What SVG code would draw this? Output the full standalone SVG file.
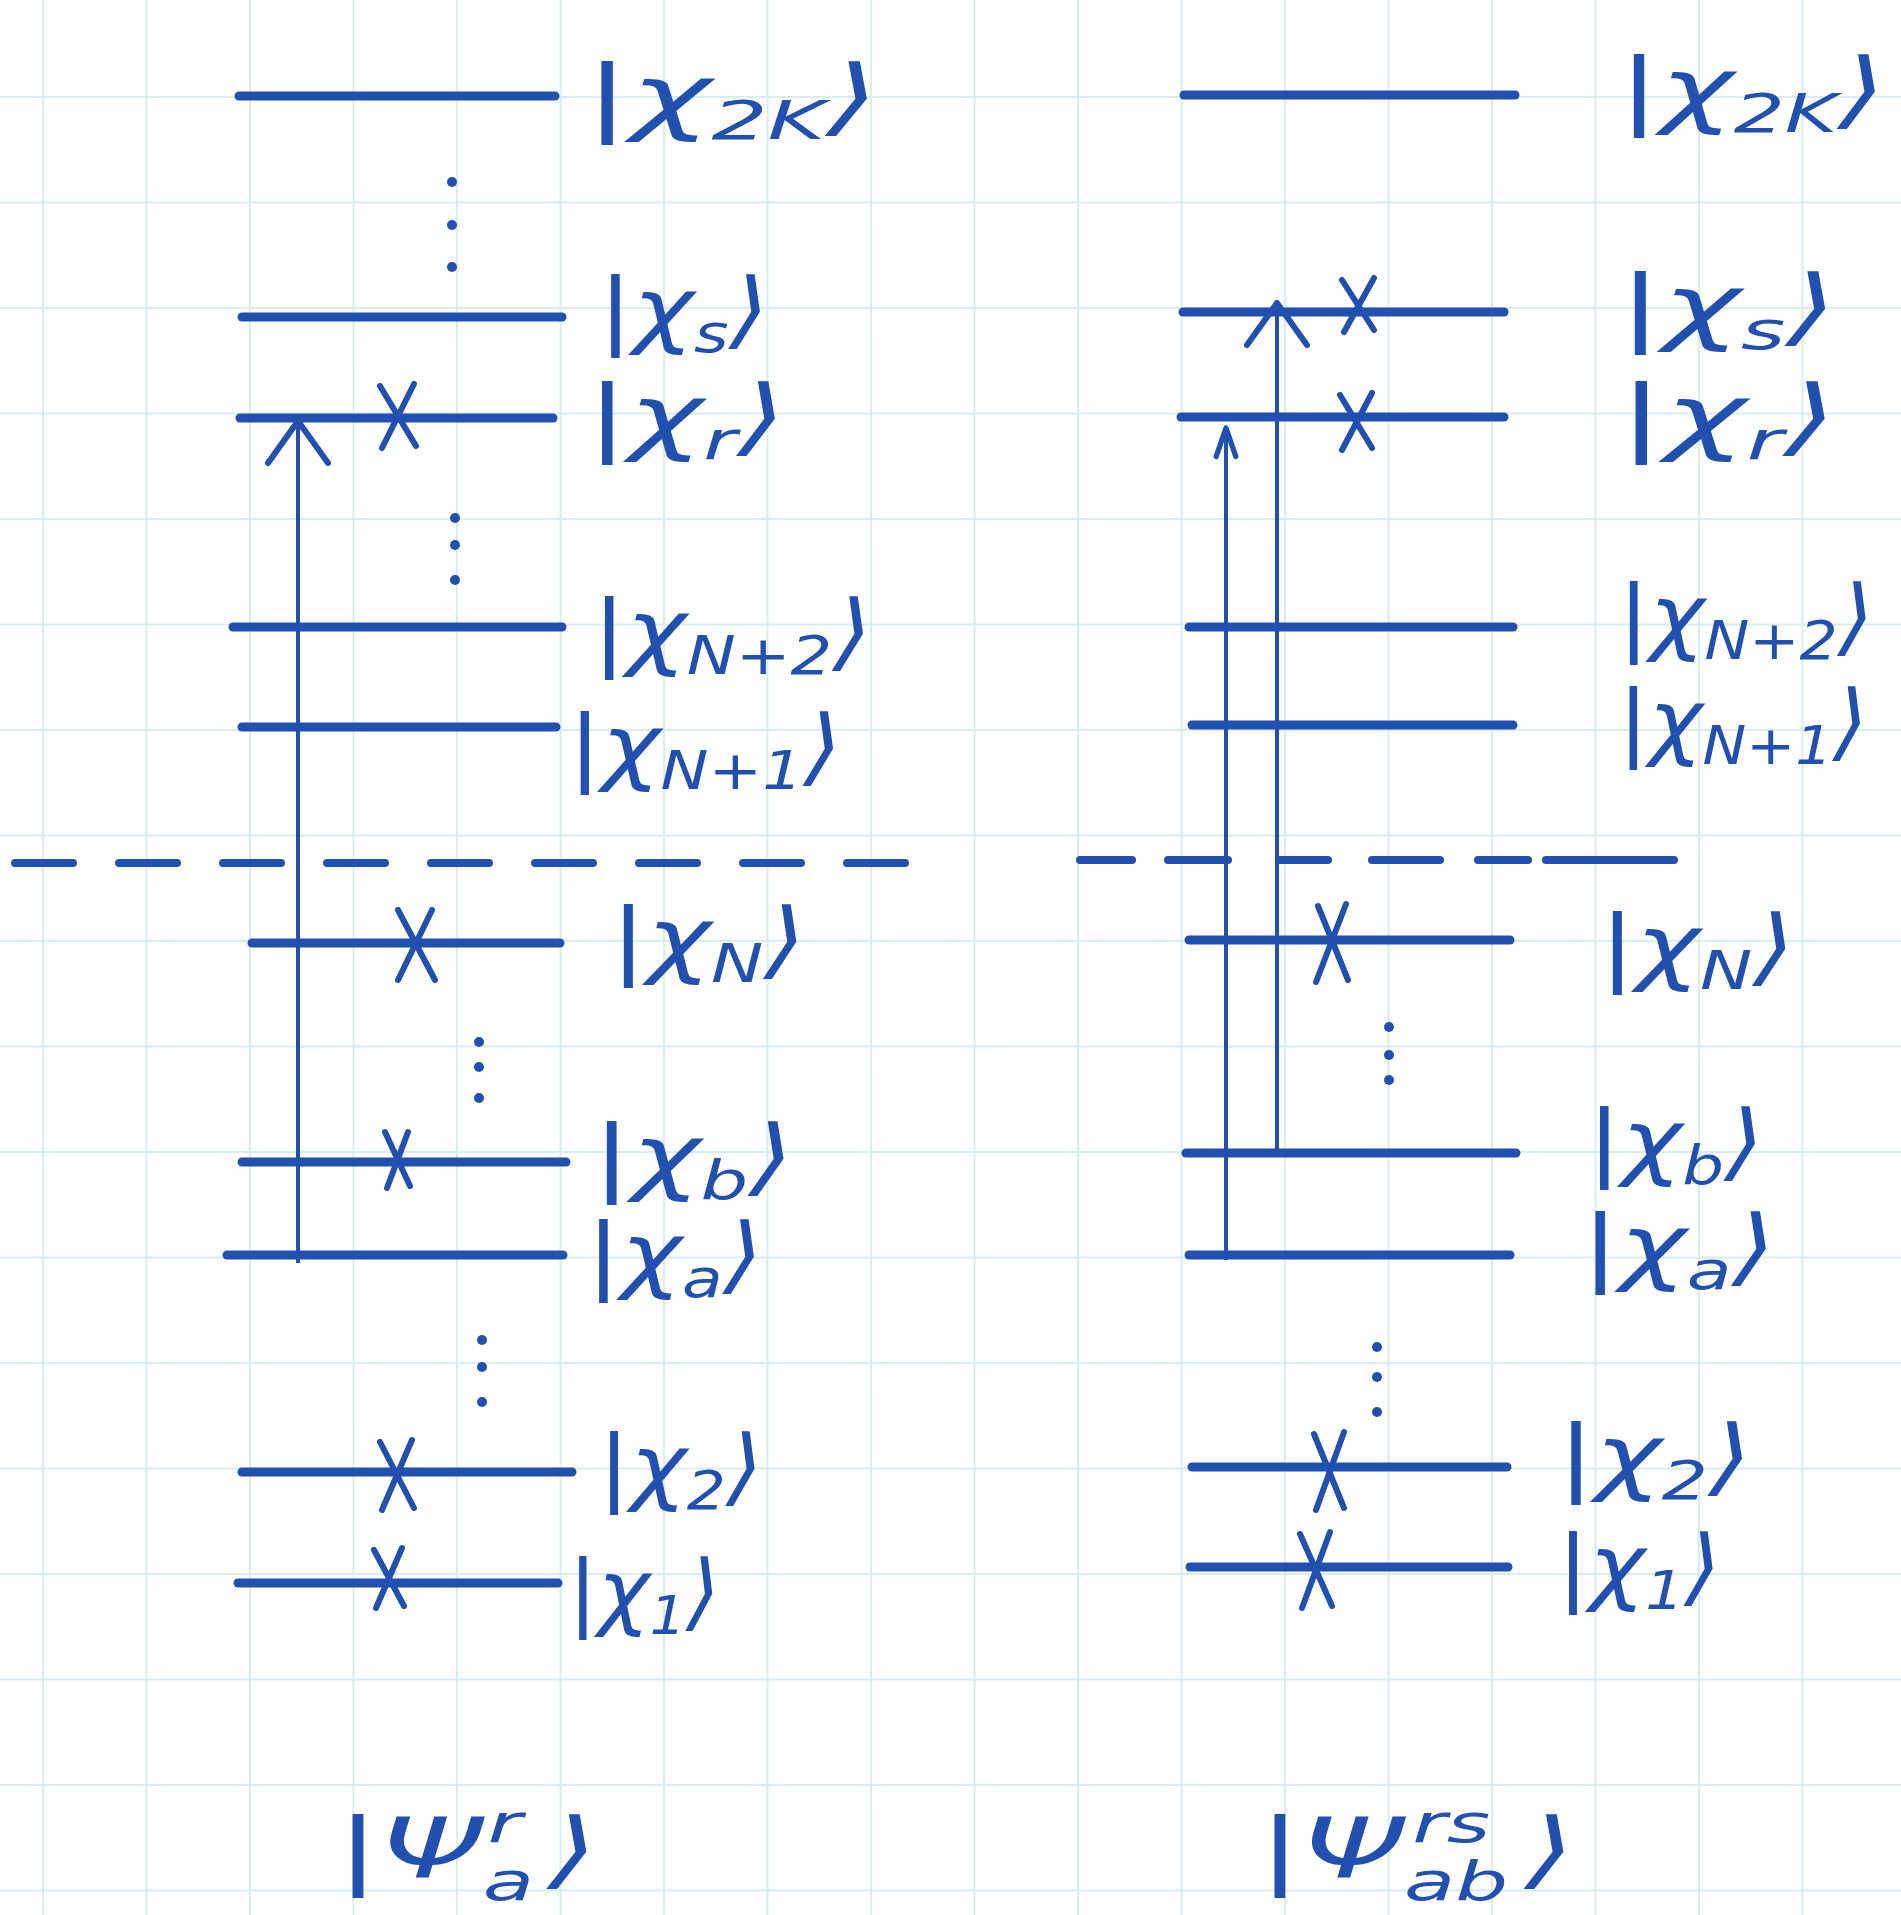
<svg xmlns="http://www.w3.org/2000/svg" width="1901" height="1915" viewBox="0 0 1901 1915">
<style>
.grid line{stroke:#d6eef2;stroke-width:2}
.lvl{stroke:#2150b0;stroke-width:9;stroke-linecap:round;fill:none}
.x{stroke:#2150b0;stroke-width:6;stroke-linecap:round;fill:none}
.con{stroke:#2150b0;stroke-width:4;fill:none}
.dash{stroke:#2150b0;stroke-width:8;stroke-linecap:round;fill:none}
.dot{fill:#2150b0}
.lbl{font-family:"DejaVu Sans","Liberation Sans",sans-serif;font-size:84px;fill:#2150b0;font-style:italic}
.sub{font-size:54px}
</style>
<defs>
<marker id="ah" markerUnits="userSpaceOnUse" markerWidth="80" markerHeight="80" refX="0" refY="0" viewBox="-50 -40 60 80" orient="auto" overflow="visible">
<path d="M-42,-30 L0,0 L-42,30" fill="none" stroke="#2150b0" stroke-width="6" stroke-linecap="round" stroke-linejoin="round"/>
</marker>
<marker id="ahs" markerUnits="userSpaceOnUse" markerWidth="40" markerHeight="40" refX="0" refY="0" viewBox="-40 -20 45 40" orient="auto" overflow="visible">
<path d="M-32,-11 L0,0 L-32,11" fill="none" stroke="#2150b0" stroke-width="6" stroke-linecap="round" stroke-linejoin="round"/>
</marker>
</defs>
<rect width="1901" height="1915" fill="#ffffff"/>
<g class="grid">
<line x1="0" y1="97" x2="1901" y2="97"/><line x1="0" y1="202.5" x2="1901" y2="202.5"/><line x1="0" y1="308" x2="1901" y2="308"/><line x1="0" y1="413.5" x2="1901" y2="413.5"/><line x1="0" y1="519" x2="1901" y2="519"/><line x1="0" y1="624.5" x2="1901" y2="624.5"/><line x1="0" y1="730" x2="1901" y2="730"/><line x1="0" y1="835.5" x2="1901" y2="835.5"/><line x1="0" y1="941" x2="1901" y2="941"/><line x1="0" y1="1046.5" x2="1901" y2="1046.5"/><line x1="0" y1="1152" x2="1901" y2="1152"/><line x1="0" y1="1257.5" x2="1901" y2="1257.5"/><line x1="0" y1="1363" x2="1901" y2="1363"/><line x1="0" y1="1468.5" x2="1901" y2="1468.5"/><line x1="0" y1="1574" x2="1901" y2="1574"/><line x1="0" y1="1679.5" x2="1901" y2="1679.5"/><line x1="0" y1="1785" x2="1901" y2="1785"/><line x1="0" y1="1890.5" x2="1901" y2="1890.5"/>
<line x1="43" y1="0" x2="43" y2="1915"/><line x1="146.5" y1="0" x2="146.5" y2="1915"/><line x1="250" y1="0" x2="250" y2="1915"/><line x1="353.5" y1="0" x2="353.5" y2="1915"/><line x1="457" y1="0" x2="457" y2="1915"/><line x1="560.5" y1="0" x2="560.5" y2="1915"/><line x1="664" y1="0" x2="664" y2="1915"/><line x1="767.5" y1="0" x2="767.5" y2="1915"/><line x1="871" y1="0" x2="871" y2="1915"/><line x1="974.5" y1="0" x2="974.5" y2="1915"/><line x1="1078" y1="0" x2="1078" y2="1915"/><line x1="1181.5" y1="0" x2="1181.5" y2="1915"/><line x1="1285" y1="0" x2="1285" y2="1915"/><line x1="1388.5" y1="0" x2="1388.5" y2="1915"/><line x1="1492" y1="0" x2="1492" y2="1915"/><line x1="1595.5" y1="0" x2="1595.5" y2="1915"/><line x1="1699" y1="0" x2="1699" y2="1915"/><line x1="1802.5" y1="0" x2="1802.5" y2="1915"/>
</g>

<!-- separators and ellipses -->
<g id="fermi-left"><line class="dash" x1="15" y1="863" x2="924" y2="863" stroke-dasharray="58 46"/></g>
<g id="fermi-right"><path class="dash" d="M1080,860 H1132 M1168,860 H1228 M1280,860 H1328 M1372,860 H1440 M1478,860 H1528 M1546,860 H1674"/></g>
<g id="dots">
<circle class="dot" cx="452" cy="182" r="5"/><circle class="dot" cx="452" cy="225" r="5"/><circle class="dot" cx="452" cy="267" r="5"/>
<circle class="dot" cx="455" cy="518" r="5"/><circle class="dot" cx="455" cy="545" r="5"/><circle class="dot" cx="455" cy="580" r="5"/>
<circle class="dot" cx="479" cy="1042" r="5"/><circle class="dot" cx="479" cy="1067" r="5"/><circle class="dot" cx="479" cy="1098" r="5"/>
<circle class="dot" cx="482" cy="1340" r="5"/><circle class="dot" cx="482" cy="1367" r="5"/><circle class="dot" cx="482" cy="1402" r="5"/>
<circle class="dot" cx="1389" cy="1027" r="5"/><circle class="dot" cx="1389" cy="1055" r="5"/><circle class="dot" cx="1389" cy="1080" r="5"/>
<circle class="dot" cx="1377" cy="1347" r="5"/><circle class="dot" cx="1377" cy="1377" r="5"/><circle class="dot" cx="1377" cy="1412" r="5"/>
</g>

<!-- left determinant -->
<g id="L-2K"><line class="lvl" x1="239" y1="96" x2="555" y2="96"/><text class="lbl" x="584" y="125" textLength="295" lengthAdjust="spacingAndGlyphs">|χ<tspan class="sub" dy="14">2K</tspan><tspan dy="-14">⟩</tspan></text></g>
<g id="L-s"><line class="lvl" x1="242" y1="317" x2="562" y2="317"/><text class="lbl" x="598" y="338" textLength="171" lengthAdjust="spacingAndGlyphs">|χ<tspan class="sub" dy="14">s</tspan><tspan dy="-14">⟩</tspan></text></g>
<g id="L-r"><line class="lvl" x1="240" y1="418" x2="553" y2="418"/><path class="x" d="M380,386 L416,446 M414,384 L382,448"/><text class="lbl" x="586" y="445" textLength="200" lengthAdjust="spacingAndGlyphs">|χ<tspan class="sub" dy="14">r</tspan><tspan dy="-14">⟩</tspan></text></g>
<g id="L-N2"><line class="lvl" x1="233" y1="627" x2="562" y2="627"/><text class="lbl" x="592" y="660" textLength="280" lengthAdjust="spacingAndGlyphs">|χ<tspan class="sub" dy="14">N+2</tspan><tspan dy="-14">⟩</tspan></text></g>
<g id="L-N1"><line class="lvl" x1="242" y1="727" x2="556" y2="727"/><text class="lbl" x="568" y="775" textLength="274" lengthAdjust="spacingAndGlyphs">|χ<tspan class="sub" dy="14">N+1</tspan><tspan dy="-14">⟩</tspan></text></g>
<g id="L-N"><line class="lvl" x1="252" y1="943" x2="560" y2="943"/><path class="x" d="M398,910 L435,980 M432,910 L398,980"/><text class="lbl" x="610" y="968" textLength="196" lengthAdjust="spacingAndGlyphs">|χ<tspan class="sub" dy="14">N</tspan><tspan dy="-14">⟩</tspan></text></g>
<g id="L-b"><line class="lvl" x1="242" y1="1162" x2="566" y2="1162"/><path class="x" d="M385,1132 L410,1186 M408,1132 L387,1188"/><text class="lbl" x="592" y="1185" textLength="202" lengthAdjust="spacingAndGlyphs">|χ<tspan class="sub" dy="14">b</tspan><tspan dy="-14">⟩</tspan></text></g>
<g id="L-a"><line class="lvl" x1="227" y1="1255" x2="563" y2="1255"/><text class="lbl" x="586" y="1283" textLength="177" lengthAdjust="spacingAndGlyphs">|χ<tspan class="sub" dy="14">a</tspan><tspan dy="-14">⟩</tspan></text></g>
<g id="L-2"><line class="lvl" x1="242" y1="1472" x2="572" y2="1472"/><path class="x" d="M380,1442 L414,1508 M412,1440 L382,1510"/><text class="lbl" x="598" y="1495" textLength="165" lengthAdjust="spacingAndGlyphs">|χ<tspan class="sub" dy="14">2</tspan><tspan dy="-14">⟩</tspan></text></g>
<g id="L-1"><line class="lvl" x1="238" y1="1583" x2="558" y2="1583"/><path class="x" d="M374,1550 L404,1606 M402,1548 L376,1608"/><text class="lbl" x="568" y="1620" textLength="152" lengthAdjust="spacingAndGlyphs">|χ<tspan class="sub" dy="14">1</tspan><tspan dy="-14">⟩</tspan></text></g>
<g id="L-title"><text class="lbl" x="336" y="1878" textLength="262" lengthAdjust="spacingAndGlyphs">|Ψ<tspan class="sub" dy="22">a</tspan><tspan class="sub" dx="-30" dy="-58">r</tspan><tspan dx="16" dy="36">⟩</tspan></text></g>

<!-- right determinant -->
<g id="R-2K"><line class="lvl" x1="1184" y1="95" x2="1515" y2="95"/><text class="lbl" x="1618" y="118" textLength="268" lengthAdjust="spacingAndGlyphs">|χ<tspan class="sub" dy="14">2K</tspan><tspan dy="-14">⟩</tspan></text></g>
<g id="R-s"><line class="lvl" x1="1183" y1="312" x2="1504" y2="312"/><path class="x" d="M1342,280 L1374,330 M1374,278 L1344,332"/><text class="lbl" x="1618" y="335" textLength="219" lengthAdjust="spacingAndGlyphs">|χ<tspan class="sub" dy="14">s</tspan><tspan dy="-14">⟩</tspan></text></g>
<g id="R-r"><line class="lvl" x1="1181" y1="417" x2="1504" y2="417"/><path class="x" d="M1340,395 L1372,448 M1372,393 L1342,450"/><text class="lbl" x="1618" y="445" textLength="219" lengthAdjust="spacingAndGlyphs">|χ<tspan class="sub" dy="14">r</tspan><tspan dy="-14">⟩</tspan></text></g>
<g id="R-N2"><line class="lvl" x1="1189" y1="627" x2="1513" y2="627"/><text class="lbl" x="1618" y="645" textLength="256" lengthAdjust="spacingAndGlyphs">|χ<tspan class="sub" dy="14">N+2</tspan><tspan dy="-14">⟩</tspan></text></g>
<g id="R-N1"><line class="lvl" x1="1192" y1="725" x2="1513" y2="725"/><text class="lbl" x="1618" y="750" textLength="250" lengthAdjust="spacingAndGlyphs">|χ<tspan class="sub" dy="14">N+1</tspan><tspan dy="-14">⟩</tspan></text></g>
<g id="R-N"><line class="lvl" x1="1189" y1="940" x2="1510" y2="940"/><path class="x" d="M1318,906 L1348,980 M1346,904 L1316,982"/><text class="lbl" x="1599" y="975" textLength="196" lengthAdjust="spacingAndGlyphs">|χ<tspan class="sub" dy="14">N</tspan><tspan dy="-14">⟩</tspan></text></g>
<g id="R-b"><line class="lvl" x1="1186" y1="1153" x2="1516" y2="1153"/><text class="lbl" x="1587" y="1170" textLength="177" lengthAdjust="spacingAndGlyphs">|χ<tspan class="sub" dy="14">b</tspan><tspan dy="-14">⟩</tspan></text></g>
<g id="R-a"><line class="lvl" x1="1189" y1="1255" x2="1510" y2="1255"/><text class="lbl" x="1581" y="1275" textLength="195" lengthAdjust="spacingAndGlyphs">|χ<tspan class="sub" dy="14">a</tspan><tspan dy="-14">⟩</tspan></text></g>
<g id="R-2"><line class="lvl" x1="1192" y1="1467" x2="1507" y2="1467"/><path class="x" d="M1314,1434 L1344,1508 M1344,1432 L1316,1510"/><text class="lbl" x="1557" y="1485" textLength="195" lengthAdjust="spacingAndGlyphs">|χ<tspan class="sub" dy="14">2</tspan><tspan dy="-14">⟩</tspan></text></g>
<g id="R-1"><line class="lvl" x1="1190" y1="1567" x2="1508" y2="1567"/><path class="x" d="M1300,1534 L1332,1606 M1330,1532 L1302,1608"/><text class="lbl" x="1557" y="1595" textLength="164" lengthAdjust="spacingAndGlyphs">|χ<tspan class="sub" dy="14">1</tspan><tspan dy="-14">⟩</tspan></text></g>
<g id="R-title"><text class="lbl" x="1258" y="1878" textLength="317" lengthAdjust="spacingAndGlyphs">|Ψ<tspan class="sub" dy="22">ab</tspan><tspan class="sub" dx="-62" dy="-58">rs</tspan><tspan dx="22" dy="36">⟩</tspan></text></g>

<g id="connectors">
<line class="con" x1="298" y1="1263" x2="298" y2="421" marker-end="url(#ah)"/>
<line class="con" x1="1226" y1="1260" x2="1226" y2="428" marker-end="url(#ahs)"/>
<line class="con" x1="1277" y1="1150" x2="1277" y2="303" marker-end="url(#ah)"/>
</g>
</svg>
